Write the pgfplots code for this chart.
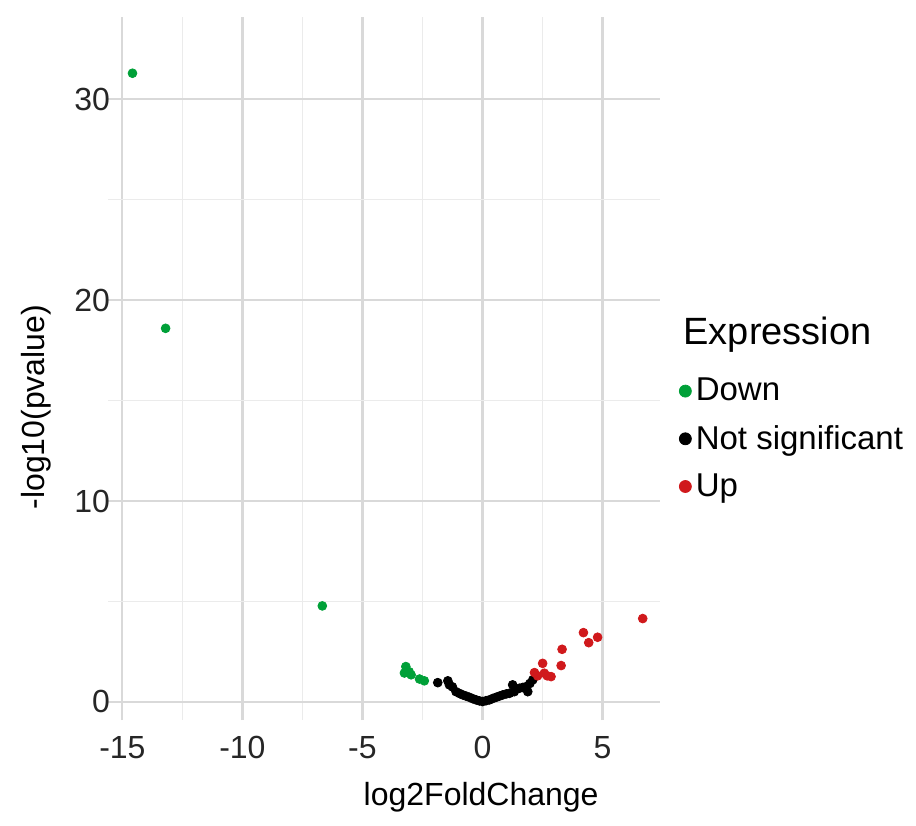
\documentclass[border=0pt]{standalone}
\usepackage{fontspec}
\setmainfont{Liberation Sans}
\usepackage{pgfplots}
\pgfplotsset{compat=1.18}
\usetikzlibrary{calc}
\definecolor{downcol}{HTML}{00A038}
\definecolor{upcol}{HTML}{D0191C}
\definecolor{majgrid}{HTML}{D9D9D9}
\definecolor{mingrid}{HTML}{EBEBEB}

\pgfplotstableread{
x y
-14.58 31.3
-13.2 18.6
-6.67 4.78
-3.19 1.76
-3.25 1.44
-2.97 1.35
-3.05 1.50
-2.62 1.14
-2.42 1.05
}\down

\pgfplotstableread{
x y
-1.86 0.96
-1.44 1.05
-1.375 0.85
-1.25 0.75
-1.1 0.51
-0.95 0.42
-0.82 0.35
-0.68 0.29
-0.54 0.23
-0.40 0.16
-0.26 0.10
-0.12 0.05
0.01 0.02
0.15 0.06
0.29 0.10
0.43 0.17
0.57 0.23
0.71 0.29
0.85 0.35
1.0 0.40
1.13 0.43
1.26 0.85
1.33 0.51
1.54 0.68
1.68 0.72
1.82 0.76
1.89 0.51
1.98 0.92
2.1 1.1
}\ns

\pgfplotstableread{
x y
2.17 1.46
2.30 1.30
2.51 1.92
2.58 1.43
2.86 1.26
2.70 1.30
3.28 1.81
3.32 2.62
4.21 3.45
4.43 2.95
4.80 3.22
6.68 4.15
}\up

\begin{document}
\begin{tikzpicture}
\begin{axis}[
    scale only axis,
    width=276pt, height=351.5pt,
    xmin=-15.6, xmax=7.4,
    ymin=-0.9, ymax=34.1,
    axis line style={draw=none},
    xtick={-15,-10,-5,0,5},
    ytick={0,10,20,30},
    minor xtick={-12.5,-7.5,-2.5,2.5},
    minor ytick={5,15,25},
    grid=both,
    major grid style={majgrid, line width=1.1pt},
    minor grid style={mingrid, line width=0.6pt},
    major tick style={draw=none},
    minor tick style={draw=none},
    /pgf/number format/assume math mode=true,
    ticklabel style={font=\fontsize{16}{18}\selectfont, text=black!85},
    xticklabel style={yshift=-4.5pt},
    yticklabel style={xshift=4.5pt},
    xlabel={log2FoldChange},
    ylabel={-log10(pvalue)},
    xlabel style={font=\fontsize{16}{18}\selectfont, at={(rel axis cs:0.676,0)}, anchor=center, yshift=-38.5pt},
    ylabel style={font=\fontsize{16}{18}\selectfont, at={(rel axis cs:-0.13,0.445)}, anchor=center},
    legend style={at={(rel axis cs:1.03,0.40)}, anchor=west, draw=none, fill=none,
        font=\fontsize{16.5}{19}\selectfont, row sep=6.7pt, inner sep=1pt,
        /tikz/every even column/.append style={column sep=4pt}},
    legend cell align=left,
    legend image code/.code={\fill (0.16cm,0cm) circle (3pt);},
    clip=false,
]
\addplot[only marks, mark=*, mark size=2.2pt, color=downcol] table {\down};
\addlegendentry{Down}
\addplot[only marks, mark=*, mark size=2.2pt, color=black] table {\ns};
\addlegendentry{Not significant}
\addplot[only marks, mark=*, mark size=2.2pt, color=upcol] table {\up};
\addlegendentry{Up}
\node[anchor=west, font=\fontsize{19}{22}\selectfont] at (rel axis cs:1.03,0.548) {Expression};
\coordinate (bl) at (rel axis cs:0,0);
\end{axis}
\pgfresetboundingbox
\path[use as bounding box] ($(bl)+(-54pt,-52.5pt)$) rectangle ($(bl)+(404pt,360pt)$);
\end{tikzpicture}
\end{document}
